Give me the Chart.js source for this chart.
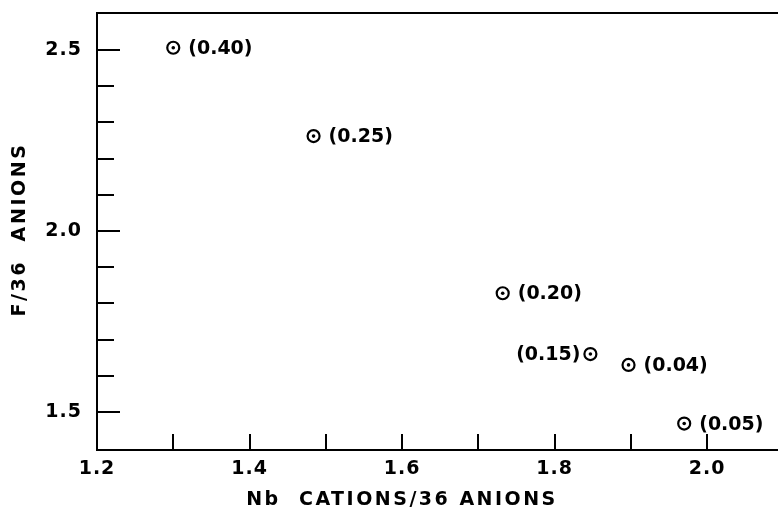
<!DOCTYPE html>
<html>
<head>
<meta charset="utf-8">
<script src="https://cdn.jsdelivr.net/npm/chart.js@4/dist/chart.umd.min.js"></script>
<style>
  html, body { margin: 0; padding: 0; background: #fff; }
  #wrap { width: 778px; height: 511px; }
</style>
</head>
<body>
<div id="wrap"><canvas id="c" width="778" height="511"></canvas></div>
<script>
// ---- data ----
const nbCations = [1.300, 1.484, 1.732, 1.847, 1.897, 1.970];
const fAnions   = [2.506, 2.262, 1.828, 1.660, 1.630, 1.468];
const pointTags = ['(0.40)', '(0.25)', '(0.20)', '(0.15)', '(0.04)', '(0.05)'];
const tagOnLeft = [false, false, false, true, false, false];

const xTickValues  = [1.2, 1.4, 1.6, 1.8, 2.0];
const xMinorValues = [1.3, 1.4, 1.5, 1.6, 1.7, 1.8, 1.9, 2.0];
const yTickValues  = [1.5, 2.0, 2.5];
const yMinorValues = [1.5, 1.6, 1.7, 1.8, 1.9, 2.0, 2.1, 2.2, 2.3, 2.4, 2.5];

const xTitle = 'Nb  CATIONS/36 ANIONS';
const yTitle = 'F/36  ANIONS';

const FONT = "'DejaVu Sans', sans-serif";
const points = nbCations.map((x, i) => ({ x: x, y: fAnions[i] }));

const decor = {
  id: 'decor',
  beforeDraw(chart) {
    chart.ctx.letterSpacing = '1px';
  },
  afterDraw(chart) {
    const ctx = chart.ctx;
    const xs = chart.scales.x, ys = chart.scales.y;
    const a = chart.chartArea;
    ctx.save();
    ctx.strokeStyle = '#000';
    ctx.lineWidth = 2;
    ctx.beginPath();
    ctx.moveTo(a.left - 1, a.top);
    ctx.lineTo(a.right, a.top);
    // y ticks pointing inward
    yMinorValues.forEach(v => {
      const py = Math.round(ys.getPixelForValue(v));
      const len = yTickValues.some(t => Math.abs(t - v) < 1e-9) ? 23 : 17;
      ctx.moveTo(a.left, py);
      ctx.lineTo(a.left + len, py);
    });
    // x ticks pointing upward
    xMinorValues.forEach(v => {
      const px = Math.round(xs.getPixelForValue(v));
      ctx.moveTo(px, a.bottom);
      ctx.lineTo(px, a.bottom - 16);
    });
    ctx.stroke();

    ctx.fillStyle = '#000';
    ctx.font = 'bold 19px ' + FONT;
    ctx.textAlign = 'center';
    ctx.textBaseline = 'middle';

    // x axis title
    ctx.letterSpacing = '2.5px';
    ctx.fillText(xTitle, 402, 500);

    // y axis title
    ctx.save();
    ctx.translate(20, (a.top + a.bottom) / 2);
    ctx.rotate(-Math.PI / 2);
    ctx.letterSpacing = '2.6px';
    ctx.fillText(yTitle, 2, 0);
    ctx.restore();

    // point tags
    ctx.letterSpacing = '0px';
    pointTags.forEach((t, i) => {
      const px = xs.getPixelForValue(nbCations[i]);
      const py = ys.getPixelForValue(fAnions[i]) + 1;
      if (tagOnLeft[i]) {
        ctx.textAlign = 'right';
        ctx.fillText(t, px - 10, py);
      } else {
        ctx.textAlign = 'left';
        ctx.fillText(t, px + 15, py);
      }
    });
    ctx.restore();
  }
};

new Chart(document.getElementById('c'), {
  type: 'scatter',
  data: {
    datasets: [
      {
        data: points,
        pointRadius: 1.8,
        pointBorderWidth: 0,
        pointBackgroundColor: '#000',
        showLine: false
      },
      {
        data: points,
        pointRadius: 6,
        pointBorderWidth: 2.2,
        pointBorderColor: '#000',
        pointBackgroundColor: '#fff',
        showLine: false
      }
    ]
  },
  options: {
    responsive: false,
    animation: false,
    events: [],
    layout: { autoPadding: false, padding: { top: 13, right: 0, bottom: 0, left: 0 } },
    plugins: { legend: { display: false }, tooltip: { enabled: false } },
    scales: {
      x: {
        type: 'linear',
        min: 1.2,
        max: 2.093,
        grid: { display: false },
        border: { display: true, color: '#000', width: 2 },
        ticks: {
          color: '#000',
          font: { family: FONT, size: 19, weight: 'bold' },
          padding: 0,
          maxRotation: 0,
          autoSkip: false,
          callback: v => Number(v).toFixed(1)
        },
        afterBuildTicks: s => { s.ticks = xTickValues.map(v => ({ value: v })); },
        afterFit: s => { s.height = 61; s.paddingLeft = 0; s.paddingRight = 0; }
      },
      y: {
        type: 'linear',
        min: 1.395,
        max: 2.602,
        grid: { display: false },
        border: { display: true, color: '#000', width: 2 },
        ticks: {
          color: '#000',
          font: { family: FONT, size: 19, weight: 'bold' },
          padding: 7,
          autoSkip: false,
          callback: v => Number(v).toFixed(1)
        },
        afterBuildTicks: s => { s.ticks = yTickValues.map(v => ({ value: v })); },
        afterFit: s => { s.width = 97; s.paddingTop = 0; s.paddingBottom = 0; }
      }
    }
  },
  plugins: [decor]
});
</script>
</body>
</html>
